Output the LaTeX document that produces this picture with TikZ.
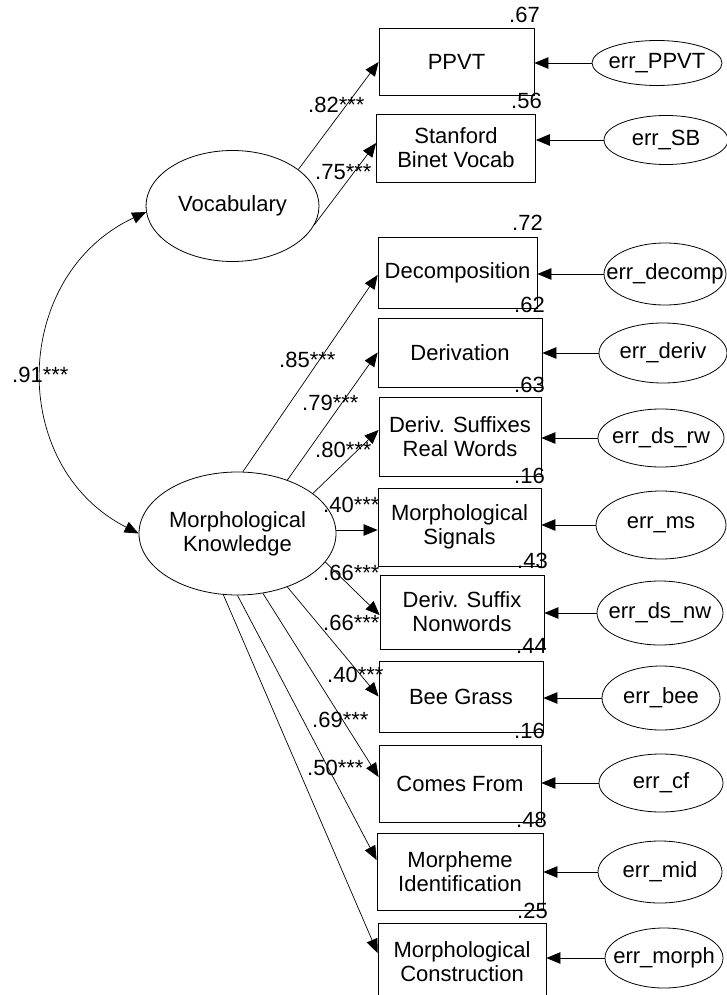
\documentclass[tikz,border=0pt]{standalone}
\usepackage{fontspec}
\setmainfont{Liberation Sans}
\usetikzlibrary{arrows.meta,shapes.geometric}
\begin{document}
\begin{tikzpicture}[x=1pt,y=1pt,
  every node/.style={font=\fontsize{22}{24}\selectfont, inner sep=0pt},
  obs/.style={draw, rectangle, line width=0.8pt, align=center},
  lat/.style={draw, ellipse, line width=0.8pt, align=center},
  errv/.style={draw, ellipse, line width=0.8pt},
  arr/.style={-{Triangle[length=14pt,width=11.5pt]}, line width=0.7pt},
  cov/.style={{Triangle[length=14pt,width=11.5pt]}-{Triangle[length=14pt,width=11.5pt]}, line width=0.7pt},
  coef/.style={anchor=base west},
  rsq/.style={anchor=base east}]
\useasboundingbox (0,0) rectangle (727,-995);
\clip (0,0) rectangle (727,-995);

% observed variables
\node[obs, minimum width=155pt, minimum height=67pt] (ppvt) at (456.5,-62) {PPVT};
\node[obs, minimum width=159pt, minimum height=68pt] (sb) at (456,-148) {Stanford\\Binet Vocab};
\node[obs, minimum width=159pt, minimum height=71pt] (dec) at (457.5,-272.5) {Decomposition};
\node[obs, minimum width=164pt, minimum height=69pt] (der) at (460,-352.5) {Derivation};
\node[obs, minimum width=162pt, minimum height=79pt] (dsrw) at (460,-436.5) {Deriv. Suffixes\\Real Words};
\node[obs, minimum width=163pt, minimum height=78pt] (ms) at (459.5,-527) {Morphological\\Signals};
\node[obs, minimum width=164pt, minimum height=74pt] (dsnw) at (462,-612) {Deriv. Suffix\\Nonwords};
\node[obs, minimum width=164pt, minimum height=71pt] (bee) at (461,-696.5) {Bee Grass};
\node[obs, minimum width=162pt, minimum height=77pt] (cf) at (460,-783.5) {Comes From};
\node[obs, minimum width=166pt, minimum height=77pt] (mid) at (460,-871.5) {Morpheme\\Identification};
\node[obs, minimum width=168pt, minimum height=77pt] (mc) at (462,-961.5) {Morphological\\Construction};

% latent variables
\node[lat, minimum width=173pt, minimum height=111pt] (voc) at (232.5,-206) {Vocabulary};
\node[lat, minimum width=197pt, minimum height=123pt] (mk) at (237.5,-533.5) {Morphological\\Knowledge};

% error terms
\node[errv, minimum width=130pt, minimum height=45pt] (eppvt) at (657,-63) {\makebox[0pt]{err\_PPVT}};
\node[errv, minimum width=124pt, minimum height=49pt] (esb) at (666,-140) {\makebox[0pt]{err\_SB}};
\node[errv, minimum width=122pt, minimum height=62pt] (edec) at (665,-274) {\makebox[0pt]{err\_decomp}};
\node[errv, minimum width=128pt, minimum height=60pt] (eder) at (663,-353) {\makebox[0pt]{err\_deriv}};
\node[errv, minimum width=126pt, minimum height=58pt] (edsrw) at (661,-438) {\makebox[0pt]{err\_ds\_rw}};
\node[errv, minimum width=130pt, minimum height=68pt] (ems) at (661,-525) {\makebox[0pt]{err\_ms}};
\node[errv, minimum width=126pt, minimum height=64pt] (edsnw) at (660,-613) {\makebox[0pt]{err\_ds\_nw}};
\node[errv, minimum width=118pt, minimum height=64pt] (ebee) at (661,-698) {\makebox[0pt]{err\_bee}};
\node[errv, minimum width=124pt, minimum height=58pt] (ecf) at (661,-783) {\makebox[0pt]{err\_cf}};
\node[errv, minimum width=124pt, minimum height=62pt] (emid) at (660,-872) {\makebox[0pt]{err\_mid}};
\node[errv, minimum width=118pt, minimum height=60pt] (emorph) at (664,-958) {\makebox[0pt]{err\_morph}};

% covariance
\draw[cov] (voc.184) to[out=205, in=153, looseness=1.18] (mk.180);

% loadings
\draw[arr] (voc.29) -- (ppvt.west);
\draw[arr] (voc.-13) -- ([yshift=5pt]sb.west);
\draw[arr] (mk.85) -- ([yshift=-2.5pt]dec.west);
\draw[arr] (mk.47) -- (der.west);
\draw[arr] (mk.28) -- ([yshift=6.5pt]dsrw.west);
\coordinate (msin) at ([yshift=-3pt]ms.west);
\draw[arr] (mk.east |- msin) -- (msin);
\draw[arr] (mk.-18) -- ([yshift=-3pt]dsnw.west);
\draw[arr] (mk.-47) -- (bee.west);
\draw[arr] (mk.-67) -- ([yshift=6.5pt]cf.west);
\draw[arr] (mk.-90) -- ([yshift=11.5pt]mid.west);
\draw[arr] (mk.-103) -- ([yshift=8.5pt]mc.west);

% error arrows
\foreach \e/\b in {eppvt/ppvt, esb/sb, edec/dec, eder/der, edsrw/dsrw, ems/ms, edsnw/dsnw, ebee/bee, ecf/cf, emid/mid, emorph/mc}
  \draw[arr] (\e.west) -- (\e.west -| \b.east);

% coefficient labels
\node[coef] (l82) at (308,-113) {.82***};
\node[coef] (l75) at (315,-180) {.75***};
\node[coef] (l91) at (12,-382) {.91***};
\node[coef] (l85) at (279,-367) {.85***};
\node[coef] (l79) at (302,-410) {.79***};
\node[coef] (l80) at (315,-457) {.80***};
\node[coef] (l40a) at (323,-512) {.40***};
\node[coef] (l66a) at (323,-580) {.66***};
\node[coef] (l66b) at (323,-630) {.66***};
\node[coef] (l40b) at (327,-682) {.40***};
\node[coef] (l69) at (312,-727) {.69***};
\node[coef] (l50) at (307,-775) {.50***};

% squared multiple correlations
\node[rsq] (r1) at (540,-23) {.67};
\node[rsq] (r2) at (542,-109) {.56};
\node[rsq] (r3) at (543,-230) {.72};
\node[rsq] (r4) at (545,-312) {.62};
\node[rsq] (r5) at (545,-392) {.63};
\node[rsq] (r6) at (545,-483) {.16};
\node[rsq] (r7) at (548,-568) {.43};
\node[rsq] (r8) at (547,-653) {.44};
\node[rsq] (r9) at (545,-738) {.16};
\node[rsq] (r10) at (547,-827) {.48};
\node[rsq] (r11) at (548,-918) {.25};
\end{tikzpicture}
\end{document}
